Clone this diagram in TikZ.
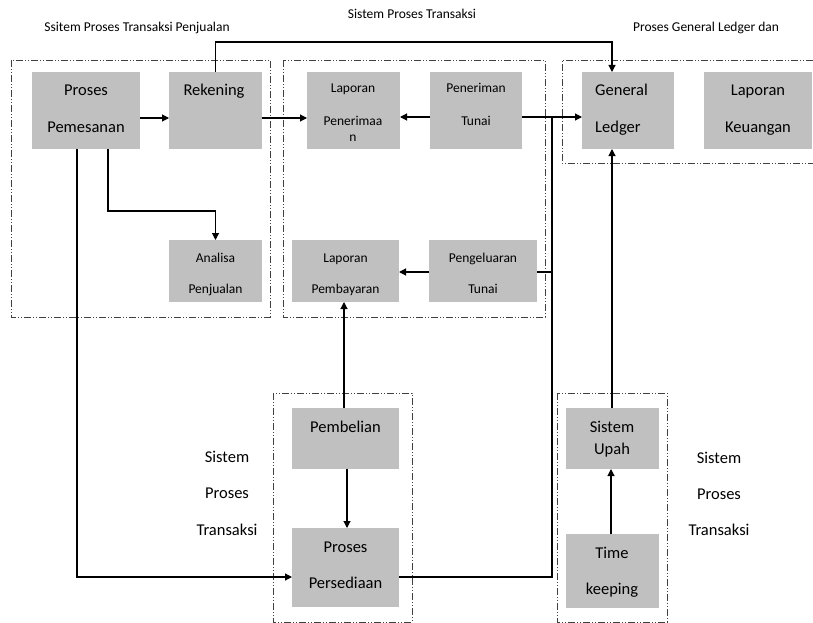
\documentclass[tikz,border=0pt]{standalone}
\usepackage{fontspec}
\setmainfont{Carlito}
\usetikzlibrary{arrows.meta}
\definecolor{boxgray}{RGB}{192,192,192}
\definecolor{framegray}{RGB}{64,64,64}

\begin{document}
\begin{tikzpicture}[x=1pt,y=-1pt,
  box/.style={draw=none,fill=boxgray,inner sep=0pt,outer sep=0pt,anchor=north west},
  frame/.style={draw=framegray,line width=0.9pt,
    dash pattern=on 7pt off 2pt on 1pt off 2pt on 1pt off 2pt},
  big/.style={font=\fontsize{16.5}{19}\selectfont,inner sep=0pt,text height=0.7em,text depth=0.2em,yshift=-2.5pt},
  small/.style={font=\fontsize{13.5}{16}\selectfont,inner sep=0pt,text height=0.7em,text depth=0.2em,yshift=-2.5pt},
  conn/.style={draw=black,line width=1.1pt},
  arr/.style={conn,-{Triangle[length=7pt,width=7pt]}}]

\useasboundingbox (0,0) rectangle (813,623);

% subsystem frames
\draw[frame] (11,60) rectangle (270,317);
\draw[frame] (283,60) rectangle (545,317);
\draw[frame] (813,60) -| (562,163) -- (813,163);
\draw[frame] (273,393) rectangle (412,622);
\draw[frame] (557,393) rectangle (667,622);

% frame titles
\node[small] (t1) at (137,27) {Ssitem Proses Transaksi Penjualan};
\node[small] (t2) at (412,14) {Sistem Proses Transaksi};
\node[small] (t3) at (706,27) {Proses General Ledger dan};
\node[big] (s1) at (227,457) {Sistem};
\node[big] (s2) at (227,493) {Proses};
\node[big] (s3) at (227,530) {Transaksi};
\node[big] (r1) at (719,458) {Sistem};
\node[big] (r2) at (719,494) {Proses};
\node[big] (r3) at (719,530) {Transaksi};

% process boxes
\node[box,minimum width=108pt,minimum height=77pt] (pem) at (32,72) {};
\node[box,minimum width=93pt,minimum height=77pt] (rek) at (169,72) {};
\node[box,minimum width=93pt,minimum height=77pt] (lpen) at (307,72) {};
\node[box,minimum width=92pt,minimum height=77pt] (ptun) at (430,72) {};
\node[box,minimum width=92pt,minimum height=77pt] (gl) at (582,72) {};
\node[box,minimum width=108pt,minimum height=77pt] (lk) at (704,72) {};
\node[box,minimum width=93pt,minimum height=62pt] (ana) at (169,240) {};
\node[box,minimum width=107pt,minimum height=62pt] (lpem) at (292,240) {};
\node[box,minimum width=108pt,minimum height=62pt] (pkel) at (429,240) {};
\node[box,minimum width=107pt,minimum height=61pt] (pbl) at (292,408) {};
\node[box,minimum width=107pt,minimum height=79pt] (pers) at (292,528) {};
\node[box,minimum width=93pt,minimum height=61pt] (upah) at (566,408) {};
\node[box,minimum width=93pt,minimum height=74pt] (time) at (566,534) {};

% box texts
\node[big] (pem1) at (86,91) {Proses};
\node[big] (pem2) at (86,127) {Pemesanan};
\node[big] (rek1) at (214,91) {Rekening};
\node[small] (lpen1) at (353,88) {Laporan};
\node[small] (lpen2) at (353,120) {Penerimaa};
\node[small] (lpen3) at (353,137) {n};
\node[small] (ptun1) at (476,88) {Peneriman};
\node[small] (ptun2) at (476,120) {Tunai};
\node[big,anchor=west] (gl1) at (595,91) {General};
\node[big,anchor=west] (gl2) at (595,127) {Ledger};
\node[big] (lk1) at (758,91) {Laporan};
\node[big] (lk2) at (758,127) {Keuangan};
\node[small] (ana1) at (215.5,257) {Analisa};
\node[small] (ana2) at (215.5,288) {Penjualan};
\node[small] (lpem1) at (345.5,257) {Laporan};
\node[small] (lpem2) at (345.5,288) {Pembayaran};
\node[small] (pkel1) at (483,257) {Pengeluaran};
\node[small] (pkel2) at (483,288) {Tunai};
\node[big] (pbl1) at (345.5,427) {Pembelian};
\node[big] (pers1) at (345.5,547) {Proses};
\node[big] (pers2) at (345.5,583) {Persediaan};
\node[big] (upah1) at (612,427) {Sistem};
\node[big] (upah2) at (612,449) {Upah};
\node[big] (time1) at (612,553) {Time};
\node[big] (time2) at (612,589) {keeping};

% junction of the cash lines feeding the ledger
\coordinate (bus) at (552,117);

% connectors
\draw[arr] (pem.east |- 0,118) -- (rek.west |- 0,118);
\draw[arr] (rek.north) |- (612,42) -- (gl.north -| 612,0);
\draw[arr] (rek.east |- 0,118) -- (lpen.west |- 0,118);
\draw[arr] (ptun.west |- 0,117) -- (lpen.east |- 0,117);
\draw[arr] (ptun.east |- 0,117) -- (gl.west |- 0,117);
\draw[arr] (pem.south -| 108,0) |- (ana.north |- 0,211) -- (ana.north);
\draw[arr] (pem.south -| 77,0) |- (pers.west |- 0,577);
\draw[arr] (pkel.west |- 0,272) -- (lpem.east |- 0,272);
\draw[conn] (pkel.east |- 0,272) -- (bus |- 0,272);
\draw[conn] (pers.east |- 0,577) -| (bus);
\draw[arr] (pbl.north -| 344,0) -- (lpem.south -| 344,0);
\draw[arr] (pbl.south -| 347,0) -- (pers.north -| 347,0);
\draw[arr] (time.north -| 611,0) -- (upah.south -| 611,0);
\draw[arr] (upah.north -| 612,0) -- (gl.south -| 612,0);
\end{tikzpicture}
\end{document}
